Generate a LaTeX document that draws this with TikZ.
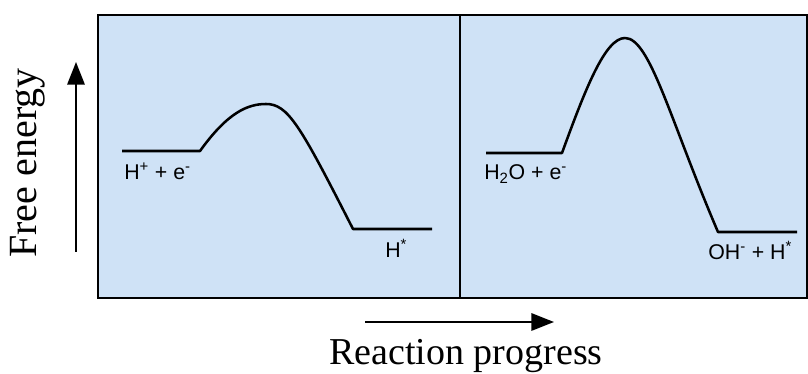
\documentclass[tikz,border=0pt]{standalone}
\usepackage{fontspec}
\setmainfont{Liberation Serif}
\newfontfamily\labelfont{Liberation Sans}
\definecolor{Panelblue}{RGB}{207,226,246}
\usetikzlibrary{arrows.meta, positioning}

\begin{document}
\begin{tikzpicture}[
  x=0.75pt, y=-0.75pt,
  panel/.style={
    draw=black, line width=2pt, fill=Panelblue
  },
  profile/.style={
    draw=black, line width=1.9pt, line join=round
  },
  species/.style={
    font=\labelfont\fontsize{16}{19}\selectfont,
    anchor=base west, inner sep=0pt
  },
  axislabel/.style={
    font=\fontsize{#1}{36}\selectfont, inner sep=0pt
  },
  axisarr/.style={
    -{Triangle[length=17pt, width=13pt]}, line width=1.6pt
  }
]
\useasboundingbox (0,0) rectangle (808,374);

% panels
\draw[panel] (98,15) rectangle (807,298);
\draw[line width=1.7pt] (460,15) -- (460,298);

% energy profiles
\draw[profile] (122,151) -- (200,151)
  .. controls (228,112) and (248,104) .. (266,104)
  .. controls (288,104) and (300,125) .. (353,229) -- (432,229);
\draw[profile] (486,153) -- (562,153)
  .. controls (585,90) and (605,38) .. (625,38)
  .. controls (650,38) and (670,120) .. (718,232) -- (797,232);

% species
\node[species] (hplus) at (124,180) {H\textsuperscript{+} + e\textsuperscript{-}};
\node[species] (hads)  at (385,258) {H\textsuperscript{*}};
\node[species] (water) at (484,180) {H\textsubscript{2}O + e\textsuperscript{-}};
\node[species] (ohads) at (708,260) {OH\textsuperscript{-} + H\textsuperscript{*}};

% axes
\node[axislabel=30, rotate=90] (energy) at (28,163) {Free energy};
\node[axislabel=28.5, anchor=base] (progress) at (466,364) {Reaction progress};
\coordinate (ebot) at (76,252);
\coordinate (etop) at (76,62);
\coordinate (pleft) at (365,322);
\coordinate (pright) at (554,322);
\draw[axisarr] (ebot) -- (etop);
\draw[axisarr] (pleft) -- (pright);
\end{tikzpicture}
\end{document}
